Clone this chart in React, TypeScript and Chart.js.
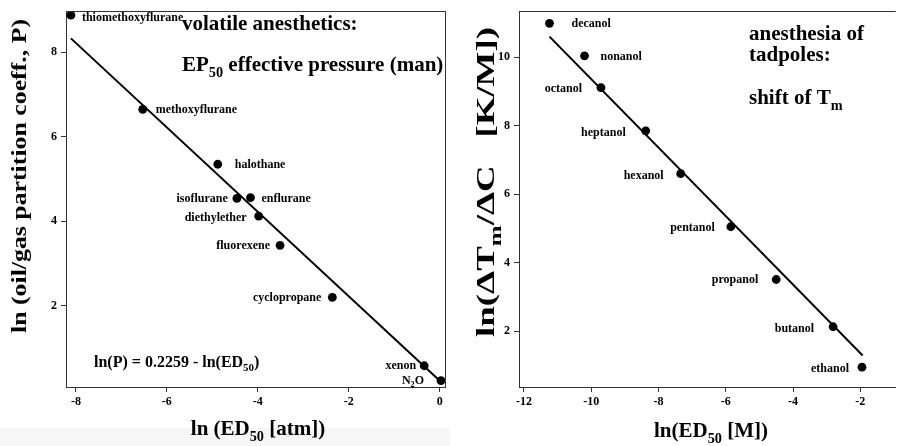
import React, { useEffect, useRef } from "react";
import { Chart, registerables } from "chart.js";

Chart.register(...registerables);

const SERIF = '"Liberation Serif", "Times New Roman", Times, serif';

// ---------- Left panel: volatile anesthetics ----------
const anestheticNames = [
  "thiomethoxyflurane",
  "methoxyflurane",
  "halothane",
  "isoflurane",
  "enflurane",
  "diethylether",
  "fluorexene",
  "cyclopropane",
  "xenon",
  "N_{2}O",
];
const anestheticLnED50 = [-8.11, -6.53, -4.88, -4.46, -4.16, -3.98, -3.51, -2.36, -0.34, 0.03];
const anestheticLnP = [8.88, 6.65, 5.35, 4.54, 4.56, 4.12, 3.43, 2.2, 0.58, 0.23];
const leftFitX = [-8.11, 0.05];
const leftFitY = [8.33, 0.18];
const leftXTicks = [-8, -6, -4, -2, 0];
const leftYTicks = [2, 4, 6, 8];

// ---------- Right panel: tadpoles ----------
const alcoholNames = [
  "decanol",
  "nonanol",
  "octanol",
  "heptanol",
  "hexanol",
  "pentanol",
  "propanol",
  "butanol",
  "ethanol",
];
const alcoholLnED50 = [-11.24, -10.2, -9.71, -8.38, -7.34, -5.85, -4.5, -2.81, -1.95];
const alcoholLnShift = [10.99, 10.04, 9.11, 7.85, 6.6, 5.05, 3.51, 2.13, 0.95];
const rightFitX = [-11.24, -1.93];
const rightFitY = [10.6, 1.29];
const rightXTicks = [-12, -10, -8, -6, -4, -2];
const rightYTicks = [2, 4, 6, 8, 10];

// ---------- label placement (style) ----------
const leftLabelDx = [11, 13, 17, -9, 11, -12, -10, -11, -8, -17];
const leftLabelDy = [2, 0, 0, 0, 0, 1, 0, 0, -1, -1];
const rightLabelDx = [22, 16, -19, -20, -17, -16, -18, -19, -13];
const rightLabelDy = [0, 0, 0, 1, 1, 0, 0, 1, 1];

type Part = { t: string; sub: boolean };
function parseRich(s: string): Part[] {
  const parts: Part[] = [];
  const re = /_\{([^}]*)\}/g;
  let last = 0;
  let m: RegExpExecArray | null;
  while ((m = re.exec(s))) {
    if (m.index > last) parts.push({ t: s.slice(last, m.index), sub: false });
    parts.push({ t: m[1], sub: true });
    last = re.lastIndex;
  }
  if (last < s.length) parts.push({ t: s.slice(last), sub: false });
  return parts;
}
const fontOf = (size: number) => `bold ${size}px ${SERIF}`;
function measureRich(ctx: CanvasRenderingContext2D, s: string, size: number) {
  let w = 0;
  for (const p of parseRich(s)) {
    ctx.font = fontOf(p.sub ? size * 0.68 : size);
    w += ctx.measureText(p.t).width;
  }
  return w;
}
function drawRich(
  ctx: CanvasRenderingContext2D,
  s: string,
  x: number,
  y: number,
  size: number,
  align: "left" | "right" | "center" = "left"
) {
  const w = measureRich(ctx, s, size);
  let cx = align === "left" ? x : align === "right" ? x - w : x - w / 2;
  ctx.textAlign = "left";
  ctx.textBaseline = "alphabetic";
  for (const p of parseRich(s)) {
    const sz = p.sub ? size * 0.68 : size;
    ctx.font = fontOf(sz);
    ctx.fillText(p.t, cx, p.sub ? y + size * 0.28 : y);
    cx += ctx.measureText(p.t).width;
  }
}
function drawRotated(
  ctx: CanvasRenderingContext2D,
  s: string,
  cx: number,
  cy: number,
  size: number,
  length: number
) {
  const w = measureRich(ctx, s, size);
  ctx.save();
  ctx.translate(cx, cy);
  ctx.rotate(-Math.PI / 2);
  ctx.scale(length / w, 1);
  drawRich(ctx, s, 0, size * 0.33, size, "center");
  ctx.restore();
}

type Ann = { text: string; x: number; y: number; size: number };
type PanelCfg = {
  xs: number[];
  ys: number[];
  names: string[];
  dx: number[];
  dy: number[];
  fitX: number[];
  fitY: number[];
  xMin: number;
  xMax: number;
  yMin: number;
  yMax: number;
  xTicks: number[];
  yTicks: number[];
  yAxisWidth: number;
  padRight: number;
  white: [number, number, number, number] | null;
  frameRight: boolean;
  xTitle: Ann;
  yTitle: { text: string; x: number; y: number; size: number; length: number };
  anns: Ann[];
};

function buildChart(canvas: HTMLCanvasElement, cfg: PanelCfg) {
  const overlay = {
    id: "overlay",
    beforeDraw(chart: any) {
      const ctx = chart.ctx as CanvasRenderingContext2D;
      if (cfg.white) {
        ctx.save();
        ctx.fillStyle = "#ffffff";
        ctx.fillRect(...cfg.white);
        ctx.restore();
      }
    },
    afterDraw(chart: any) {
      const ctx = chart.ctx as CanvasRenderingContext2D;
      const a = chart.chartArea;
      ctx.save();
      ctx.strokeStyle = "#333";
      ctx.lineWidth = 1;
      ctx.beginPath();
      ctx.moveTo(a.left, Math.round(a.top) + 0.5);
      ctx.lineTo(a.right, Math.round(a.top) + 0.5);
      if (cfg.frameRight) {
        ctx.moveTo(Math.round(a.right) - 0.5, a.top);
        ctx.lineTo(Math.round(a.right) - 0.5, a.bottom);
      }
      ctx.stroke();

      ctx.fillStyle = "#000";
      const xs = chart.scales.x;
      const ys = chart.scales.y;
      cfg.names.forEach((n, i) => {
        const px = xs.getPixelForValue(cfg.xs[i]);
        const py = ys.getPixelForValue(cfg.ys[i]);
        const d = cfg.dx[i];
        drawRich(ctx, n, px + d, py + 4 + cfg.dy[i], 12, d >= 0 ? "left" : "right");
      });
      for (const an of cfg.anns) drawRich(ctx, an.text, an.x, an.y, an.size, "left");
      drawRich(ctx, cfg.xTitle.text, cfg.xTitle.x, cfg.xTitle.y, cfg.xTitle.size, "center");
      drawRotated(ctx, cfg.yTitle.text, cfg.yTitle.x, cfg.yTitle.y, cfg.yTitle.size, cfg.yTitle.length);
      ctx.restore();
    },
  };

  const tickFont = { family: SERIF, size: 12, weight: "bold" as const };
  return new Chart(canvas, {
    type: "scatter",
    data: {
      datasets: [
        {
          data: cfg.xs.map((x, i) => ({ x, y: cfg.ys[i] })),
          showLine: false,
          pointRadius: 4.4,
          pointBackgroundColor: "#000",
          pointBorderColor: "#000",
          pointBorderWidth: 0,
        },
        {
          data: cfg.fitX.map((x, i) => ({ x, y: cfg.fitY[i] })),
          showLine: true,
          borderColor: "#000",
          borderWidth: 2,
          pointRadius: 0,
        },
      ],
    },
    options: {
      responsive: false,
      animation: false,
      devicePixelRatio: 1,
      layout: { padding: { top: 3, right: cfg.padRight, left: 0, bottom: 0 } },
      plugins: { legend: { display: false }, tooltip: { enabled: false } },
      scales: {
        x: {
          type: "linear",
          min: cfg.xMin,
          max: cfg.xMax,
          afterBuildTicks: (s: any) => {
            s.ticks = cfg.xTicks.map((v) => ({ value: v }));
          },
          afterFit: (s: any) => {
            s.height = 59;
          },
          ticks: { font: tickFont, color: "#000", padding: 3, maxRotation: 0, autoSkip: false },
          grid: { drawOnChartArea: false, drawTicks: true, tickLength: 5, color: "#333" },
          border: { display: true, color: "#333", width: 1 },
        },
        y: {
          type: "linear",
          min: cfg.yMin,
          max: cfg.yMax,
          afterBuildTicks: (s: any) => {
            s.ticks = cfg.yTicks.map((v) => ({ value: v }));
          },
          afterFit: (s: any) => {
            s.width = cfg.yAxisWidth;
          },
          ticks: { font: tickFont, color: "#000", padding: 4, autoSkip: false },
          grid: { drawOnChartArea: false, drawTicks: true, tickLength: 5, color: "#333" },
          border: { display: true, color: "#333", width: 1 },
        },
      },
    },
    plugins: [overlay],
  } as any);
}

const leftCfg: PanelCfg = {
  xs: anestheticLnED50,
  ys: anestheticLnP,
  names: anestheticNames,
  dx: leftLabelDx,
  dy: leftLabelDy,
  fitX: leftFitX,
  fitY: leftFitY,
  xMin: -8.218,
  xMax: 0.131,
  yMin: 0.077,
  yMax: 8.973,
  xTicks: leftXTicks,
  yTicks: leftYTicks,
  yAxisWidth: 66,
  padRight: 1,
  white: [0, 0, 450, 428],
  frameRight: true,
  xTitle: { text: "ln (ED_{50} [atm])", x: 258, y: 435, size: 21 },
  yTitle: { text: "ln (oil/gas partition coeff., P)", x: 19, y: 176, size: 22, length: 314 },
  anns: [
    { text: "volatile anesthetics:", x: 182, y: 30, size: 21 },
    { text: "EP_{50} effective pressure (man)", x: 182, y: 71, size: 21 },
    { text: "ln(P) = 0.2259 - ln(ED_{50})", x: 94, y: 367, size: 16 },
  ],
};

const rightCfg: PanelCfg = {
  xs: alcoholLnED50,
  ys: alcoholLnShift,
  names: alcoholNames,
  dx: rightLabelDx,
  dy: rightLabelDy,
  fitX: rightFitX,
  fitY: rightFitY,
  xMin: -12.147,
  xMax: -0.951,
  yMin: 0.371,
  yMax: 11.343,
  xTicks: rightXTicks,
  yTicks: rightYTicks,
  yAxisWidth: 69,
  padRight: 0,
  white: [0, 0, 450, 446],
  frameRight: false,
  xTitle: { text: "ln(ED_{50} [M])", x: 261, y: 437, size: 21 },
  yTitle: { text: "ln(\u0394T_{m}/\u0394C   [K/M])", x: 36, y: 182, size: 25, length: 310 },
  anns: [
    { text: "anesthesia of", x: 299, y: 40, size: 21 },
    { text: "tadpoles:", x: 299, y: 61, size: 21 },
    { text: "shift of T_{m}", x: 299, y: 104, size: 21 },
  ],
};

function Panel({ cfg }: { cfg: PanelCfg }) {
  const ref = useRef<HTMLCanvasElement>(null);
  useEffect(() => {
    const chart = buildChart(ref.current!, cfg);
    return () => chart.destroy();
  }, [cfg]);
  return (
    <canvas
      ref={ref}
      width={450}
      height={446}
      style={{ display: "block", width: 450, height: 446 }}
    />
  );
}

export default function App() {
  return (
    <div
      style={{
        position: "fixed",
        left: 0,
        top: 0,
        width: 900,
        height: 446,
        display: "flex",
        background: "#f6f6f6",
      }}
    >
      <Panel cfg={leftCfg} />
      <Panel cfg={rightCfg} />
    </div>
  );
}
